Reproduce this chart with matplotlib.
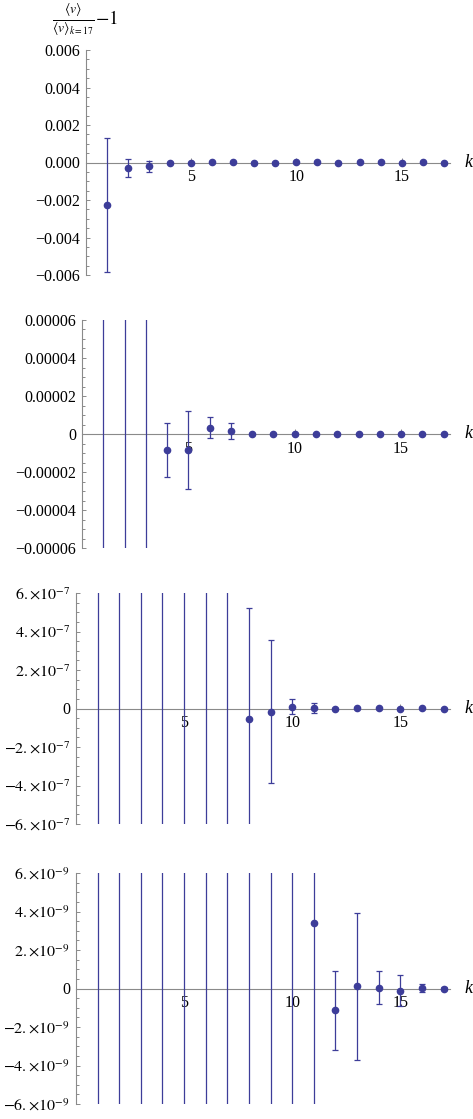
import matplotlib
matplotlib.use('Agg')
import numpy as np
import matplotlib.pyplot as plt
from matplotlib.ticker import FixedLocator, FixedFormatter, MultipleLocator

plt.rcParams['font.family'] = ['Liberation Serif', 'DejaVu Serif']
plt.rcParams['mathtext.fontset'] = 'stix'

# data: <v>/<v>_{k=17} - 1 with error, for k = 1..17
k = list(range(1, 18))
ratio = [-2.27e-3, -2.7e-4, -2.05e-4, -8.4e-6, -8.5e-6, 3.3e-6, 1.6e-6,
         -5.7e-8, -1.6e-8, 8e-9, 3.4e-9, -1.13e-9, 0.12e-9, 0.05e-9,
         -0.12e-9, 0.02e-9, 0.0]
ratio_err = [3.58e-3, 4.8e-4, 2.95e-4, 1.42e-5, 2.05e-5, 5.4e-6, 4.1e-6,
             5.8e-7, 3.7e-7, 3.9e-8, 2.5e-8, 2.05e-9, 3.82e-9, 0.88e-9,
             0.8e-9, 0.2e-9, 0.08e-9]

# y range of each panel and its tick labels
y_limits = [6e-3, 6e-5, 6e-7, 6e-9]
labels_1 = ['\u22120.006', '\u22120.004', '\u22120.002', '0.000', '0.002', '0.004', '0.006']
labels_2 = ['\u22120.00006', '\u22120.00004', '\u22120.00002', '0', '0.00002', '0.00004', '0.00006']
labels_3 = [r'$-6.{\times}10^{-7}$', r'$-4.{\times}10^{-7}$', r'$-2.{\times}10^{-7}$', '0',
            r'$2.{\times}10^{-7}$', r'$4.{\times}10^{-7}$', r'$6.{\times}10^{-7}$']
labels_4 = [r'$-6.{\times}10^{-9}$', r'$-4.{\times}10^{-9}$', r'$-2.{\times}10^{-9}$', '0',
            r'$2.{\times}10^{-9}$', r'$4.{\times}10^{-9}$', r'$6.{\times}10^{-9}$']
y_labels = [labels_1, labels_2, labels_3, labels_4]
x_ticks = [5, 10, 15]

W, H = 473, 1119
fig = plt.figure(figsize=(W / 100, H / 100), dpi=100)

# panel boxes in pixels: left, top, right, bottom
boxes = [(86, 50, 450, 275), (82, 320, 450, 548), (76, 593, 450, 824), (76, 873, 450, 1104)]

point_color = (0.24, 0.24, 0.6)
axis_color = '#8a8a8a'

for box, lim, labels in zip(boxes, y_limits, y_labels):
    l, t, r, b = box
    ax = fig.add_axes([l / W, 1 - b / H, (r - l) / W, (b - t) / H])
    ax.errorbar(k, ratio, yerr=ratio_err, fmt='o', color=point_color, ms=4.5,
                elinewidth=0.9, capsize=2.4, capthick=0.9, zorder=3)
    ax.set_xlim(0, 17.3)
    ax.set_ylim(-lim, lim)

    for s in ['top', 'right']:
        ax.spines[s].set_visible(False)
    ax.spines['bottom'].set_position(('data', 0))
    for s in ['left', 'bottom']:
        ax.spines[s].set_color(axis_color)
        ax.spines[s].set_linewidth(0.8)

    ax.yaxis.set_major_locator(FixedLocator(np.linspace(-lim, lim, 7)))
    ax.yaxis.set_major_formatter(FixedFormatter(labels))
    ax.yaxis.set_minor_locator(MultipleLocator(lim / 12))
    ax.xaxis.set_major_locator(FixedLocator(x_ticks))
    ax.xaxis.set_minor_locator(MultipleLocator(1))

    ax.tick_params(axis='both', which='both', direction='in', color=axis_color,
                   labelsize=11.5, width=0.7)
    ax.tick_params(axis='y', which='major', length=3.2, pad=4.3)
    ax.tick_params(axis='y', which='minor', length=1.8)
    ax.tick_params(axis='x', which='major', length=3.6, pad=5)
    ax.tick_params(axis='x', which='minor', length=2.2)

    ax.annotate('k', xy=(1, 0), xycoords=('axes fraction', 'data'),
                xytext=(13, 0), textcoords='offset points',
                ha='center', va='center', fontsize=13, style='italic')

fig.text(85 / W, 1 - 21 / H, r'$\frac{\langle v\rangle}{\langle v\rangle_{k=17}}{-}1$',
         ha='center', va='center', fontsize=14)

fig.savefig('out.png', dpi=100)
